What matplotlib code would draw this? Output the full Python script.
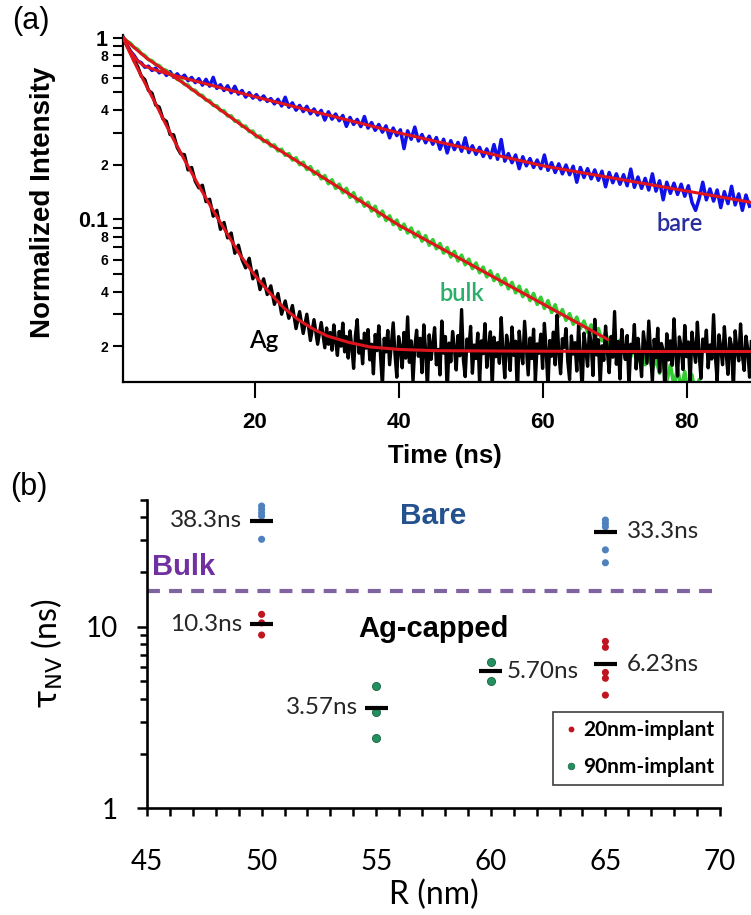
import numpy as np
import matplotlib
matplotlib.use("Agg")
import matplotlib.pyplot as plt
from matplotlib.lines import Line2D

plt.rcParams["font.family"] = ["Liberation Sans", "DejaVu Sans"]
plt.rcParams["mathtext.fontset"] = "dejavusans"

# ---------------- (a) time-resolved fluorescence ----------------
T_START = 1.7        # ns, first time bin
STEP = 0.5           # ns, bin width
FINE_STEP = 0.25     # ns, bin width of the late Ag record
AG_LATE_START = 29.95

# bare: normalized intensity x 1e-3
bare_counts = [
    1000, 915, 842, 800, 745, 728, 688, 697, 660, 680,
    641, 662, 620, 651, 606, 633, 598, 622, 580, 604,
    566, 595, 548, 590, 541, 605, 526, 551, 512, 544,
    497, 540, 489, 512, 471, 498, 465, 486, 455, 478,
    446, 462, 432, 458, 421, 470, 414, 438, 399, 424,
    392, 419, 381, 405, 375, 398, 352, 391, 356, 380,
    349, 373, 325, 364, 333, 355, 324, 368, 318, 341,
    309, 333, 302, 327, 281, 318, 289, 311, 245, 307,
    276, 322, 270, 293, 264, 287, 259, 282, 243, 276,
    232, 271, 242, 265, 237, 281, 233, 254, 228, 249,
    222, 244, 218, 258, 214, 275, 209, 230, 205, 226,
    190, 221, 197, 216, 193, 212, 190, 226, 186, 205,
    181, 202, 178, 199, 176, 196, 160, 193, 170, 190,
    167, 187, 164, 184, 151, 181, 159, 178, 156, 176,
    153, 189, 150, 171, 148, 168, 145, 178, 143, 163,
    128, 160, 139, 158, 137, 156, 134, 153, 124, 112,
    130, 160, 128, 147, 126, 145, 116, 142, 122, 152,
    120, 138, 112, 136, 118,
]

# bulk: normalized intensity x 1e-4
bulk_counts = [
    10000, 9580, 9330, 8850, 8640, 8190, 7990, 7580, 7470, 7120,
    7020, 6690, 6610, 6280, 6210, 5900, 5850, 5540, 5490, 5180,
    5130, 4850, 4810, 4530, 4510, 4240, 4220, 3970, 3960, 3710,
    3710, 3470, 3480, 3250, 3260, 3040, 3060, 2840, 2880, 2680,
    2720, 2530, 2570, 2380, 2430, 2250, 2300, 2120, 2180, 2000,
    2060, 1880, 1950, 1770, 1840, 1670, 1740, 1570, 1650, 1480,
    1560, 1400, 1480, 1320, 1400, 1250, 1310, 1180, 1240, 1110,
    1180, 1040, 1110, 985, 1045, 935, 990, 880, 940, 840,
    895, 798, 852, 758, 812, 720, 772, 688, 735, 652,
    698, 620, 665, 590, 634, 562, 603, 535, 574, 508,
    545, 482, 520, 460, 495, 436, 472, 414, 449, 394,
    428, 375, 408, 357, 390, 340, 372, 323, 356, 307,
    338, 292, 318, 278, 302, 264, 289, 250, 275, 239,
    262, 226, 250, 214, 238, 203, 228, 193, 216, 184,
    205, 175, 196, 166, 186, 158, 177, 150, 170, 142,
    170, 128, 158, 121, 151, 116, 145, 108, 139, 104,
    131, 98, 125, 95, 118, 90, 112, 86, 106, 82,
    100, 79, 95, 76, 90,
]

# Ag-capped: normalized intensity x 1e-4, 0.5 ns bins
ag_counts_early = [
    10000, 9020, 8420, 7460, 6950, 6150, 5880, 5130, 4950, 4260,
    4150, 3580, 3460, 2930, 2920, 2480, 2290, 2270, 1870, 1930,
    1620, 1490, 1540, 1250, 1290, 1040, 1120, 880, 960, 790,
    840, 650, 720, 600, 540, 610, 470, 520, 410, 470,
    385, 430, 340, 390, 300, 355, 285, 335, 250, 310,
    235, 300, 215, 280, 205, 270, 196,
]
# Ag-capped: background-limited tail, 0.25 ns bins
ag_counts_late = [
    252, 205, 238, 190, 262, 214, 178, 241, 200, 268, 186, 226,
    172, 243, 198, 151, 229, 280, 183, 214, 160, 236, 195, 247,
    168, 205, 141, 232, 189, 259, 174, 121, 221, 186, 244, 158,
    207, 269, 180, 135, 226, 197, 152, 238, 172, 290, 163, 214,
    128, 199, 245, 176, 221, 143, 262, 188, 117, 231, 169, 205,
    253, 158, 192, 139, 275, 183, 226, 110, 208, 164, 241, 196,
    148, 229, 177, 318, 168, 136, 219, 188, 257, 142, 203, 171,
    236, 125, 214, 182, 266, 153, 197, 240, 119, 224, 175, 209,
    161, 287, 185, 134, 230, 199, 147, 255, 178, 213, 105, 242,
    187, 160, 274, 196, 139, 222, 171, 248, 129, 206, 183, 233,
    151, 267, 190, 118, 215, 176, 239, 158, 296, 184, 141, 220,
    197, 250, 165, 131, 228, 181, 209, 146, 262, 172, 115, 236,
    193, 155, 244, 204, 138, 281, 179, 217, 123, 201, 167, 258,
    188, 143, 226, 174, 310, 159, 212, 132, 247, 192, 169, 229,
    120, 205, 184, 263, 150, 221, 178, 136, 240, 196, 161, 275,
    186, 127, 218, 173, 251, 144, 207, 190, 112, 234, 168, 214,
    157, 283, 182, 137, 225, 199, 149, 260, 175, 211, 124, 239,
    194, 163, 271, 180, 133, 219, 187, 245, 152, 203, 170, 298,
    176, 129, 231, 195, 158, 256, 183, 140, 222, 201, 114, 243,
    189, 166, 265, 178, 147, 227, 192, 135, 212,
]

# fitted decays (time in ns, normalized intensity)
bare_fit_t = [1.7, 2.5, 3.5, 4.5, 6, 8, 20, 40, 60, 88.9]
bare_fit = [1.0, 0.861, 0.759, 0.703, 0.667, 0.631, 0.473, 0.299, 0.197, 0.124]
bulk_fit_t = [1.7, 3, 5, 7, 10, 20, 40, 68, 69]
bulk_fit = [1.0, 0.898, 0.769, 0.679, 0.564, 0.292, 0.0927, 0.0229, 0.0218]
ag_fit_t = [1.7, 2.5, 3.5, 4.5, 5.5, 6.5, 7.5, 8.5, 10, 12, 14, 16, 18, 20,
            22, 24, 26, 28, 30, 33, 36, 40, 45, 55, 70, 88.9]
ag_fit = [1.0, 0.845, 0.70, 0.585, 0.49, 0.41, 0.34, 0.285, 0.22, 0.158,
          0.115, 0.085, 0.063, 0.049, 0.0395, 0.0325, 0.028, 0.025, 0.0228,
          0.021, 0.0198, 0.0192, 0.0189, 0.0188, 0.0187, 0.0187]

# ---------------- (b) lifetimes vs. aperture radius ----------------
bare_r = [50, 50, 50, 50, 50, 65, 65, 65, 65, 65]
bare_tau = [46.2, 44.3, 42.4, 40.7, 30.3, 38.7, 37.1, 35.5, 26.5, 22.5]
implant20_r = [50, 50, 50, 65, 65, 65, 65, 65]
implant20_tau = [11.7, 10.5, 9.0, 8.3, 7.7, 5.6, 5.2, 4.2]
implant90_r = [55, 55, 55, 60, 60]
implant90_tau = [4.71, 3.40, 2.43, 6.4, 5.0]
mean_r = [50, 65, 50, 55, 60, 65]
mean_tau = [38.3, 33.3, 10.3, 3.57, 5.70, 6.23]
bulk_tau = 15.8

W, H = 751, 915
fig = plt.figure(figsize=(W / 100, H / 100), dpi=100)

# ---- panel (a) ----
axa = fig.add_axes([122.7 / W, 1 - 382 / H, 628.3 / W, 346.6 / H])
axa.set_yscale("log")
axa.set_xlim(1.625, 88.9)
axa.set_ylim(0.0127, 1.03)

bare_t = T_START + STEP * np.arange(len(bare_counts))
bulk_t = T_START + STEP * np.arange(len(bulk_counts))
ag_t = np.concatenate([T_START + STEP * np.arange(len(ag_counts_early)),
                       AG_LATE_START + FINE_STEP * np.arange(len(ag_counts_late))])
bare_v = np.array(bare_counts) * 1e-3
bulk_v = np.array(bulk_counts) * 1e-4
ag_v = np.concatenate([ag_counts_early, ag_counts_late]) * 1e-4

axa.plot(bare_t, bare_v, color="#1010E8", lw=2.5, zorder=2)
axa.plot(bulk_t, bulk_v, color="#33CC33", lw=2.6, zorder=2)
axa.plot(ag_t, ag_v, color="black", lw=2.4, zorder=2.5)
for ft, fv in ((bare_fit_t, bare_fit), (bulk_fit_t, bulk_fit), (ag_fit_t, ag_fit)):
    axa.plot(ft, fv, color="#E0141C", lw=2.2, zorder=3)

for s in ("top", "right"):
    axa.spines[s].set_visible(False)
for s in ("left", "bottom"):
    axa.spines[s].set_linewidth(1.6)

axa.set_xticks([20, 40, 60, 80], ["20", "40", "60", "80"],
               fontsize=16, fontweight="bold")
axa.set_yticks([0.1, 1], ["0.1", "1"], fontsize=15.5, fontweight="bold")
minor_vals = [d * 10.0 ** e for e in (-2, -1) for d in range(2, 10)]
minor_labels = [str(d) if d % 2 == 0 else "" for e in (-2, -1) for d in range(2, 10)]
axa.set_yticks(minor_vals, minor_labels, minor=True, fontsize=10, fontweight="bold")
axa.tick_params(axis="x", which="major", direction="out", length=11.5, width=1.5, pad=10)
axa.tick_params(axis="y", which="both", direction="out", length=7.5, width=1.5, pad=3)

axa.set_xlabel("Time (ns)", fontsize=18.5, fontweight="bold", va="center")
axa.xaxis.set_label_coords(0.513, -0.2135)
axa.set_ylabel("Normalized Intensity", fontsize=20, fontweight="bold", va="center")
axa.yaxis.set_label_coords(-0.1268, 0.519)

axa.text(78.98, 0.0862, "bare", color="#2B2F9E", fontsize=17, family="Lato",
         fontweight="semibold", ha="center", va="baseline")
axa.text(48.75, 0.0355, "bulk", color="#2AAE6A", fontsize=17, family="Lato",
         fontweight="semibold", ha="center", va="baseline")
axa.text(21.2, 0.0195, "Ag", color="black", fontsize=17.5, family="Lato",
         fontweight="semibold", ha="center", va="baseline")

fig.text(12 / W, 1 - 21.5 / H, "(a)", fontsize=22, ha="left", va="center")
fig.text(10 / W, 1 - 487 / H, "(b)", fontsize=22, ha="left", va="center")

# ---- panel (b) ----
axb = fig.add_axes([147 / W, 1 - 808.3 / H, 573 / W, 308.5 / H])
axb.set_yscale("log")
axb.set_xlim(45, 70)
axb.set_ylim(1, 50)
for s in ("top", "right"):
    axb.spines[s].set_visible(False)
for s in ("left", "bottom"):
    axb.spines[s].set_linewidth(1.9)

axb.set_xticks(range(45, 71, 5), [str(v) for v in range(45, 71, 5)],
               fontsize=20, family="Lato")
axb.set_xticks(range(45, 71), minor=True)
axb.set_yticks([1, 10], ["1", "10"], fontsize=20, family="Lato")
axb.set_yticks([d * 10.0 ** e for e in (0, 1) for d in range(2, 10) if d * 10.0 ** e <= 50],
               minor=True)
axb.yaxis.set_minor_formatter(plt.NullFormatter())
axb.tick_params(axis="x", which="both", direction="out", length=6, width=1.8, pad=23)
axb.tick_params(axis="y", which="major", direction="out", length=7.2, width=1.8, pad=14)
axb.tick_params(axis="y", which="minor", direction="out", length=5, width=1.8)

axb.axhline(bulk_tau, color="#8064A2", lw=3.0, dashes=(3.1, 2.2), zorder=1)

axb.scatter(bare_r, bare_tau, s=26, color="#4F81BD", edgecolors="none", zorder=2)
axb.scatter(implant20_r, implant20_tau, s=26, color="#C0141E", edgecolors="none", zorder=2)
axb.scatter(implant90_r, implant90_tau, s=34, color="#23905F",
            edgecolors="#17603F", linewidths=0.6, zorder=2)

axb.hlines(mean_tau, np.array(mean_r) - 0.5, np.array(mean_r) + 0.5,
           color="black", lw=3.0, zorder=3)
label_offsets = [-5.5, 7, -5.5, -5, 3, 7]
for r, tau, off in zip(mean_r, mean_tau, label_offsets):
    axb.annotate(f"{tau:#.3g}ns", xy=(r + 0.5 * np.sign(off), tau),
                 xytext=(off, 0), textcoords="offset points",
                 ha="right" if off < 0 else "left", va="center",
                 fontsize=17.5, family="Lato", color="#262626")

axb.text(57.48, 36.6, "Bare", color="#24528F", fontsize=21.5,
         fontweight="bold", ha="center", va="baseline")
axb.text(45.22, 19.3, "Bulk", color="#7030A0", fontsize=21,
         fontweight="bold", ha="left", va="baseline")
axb.text(57.52, 8.8, "Ag-capped", color="black", fontsize=21,
         fontweight="bold", ha="center", va="baseline")

axb.set_xlabel("R (nm)", fontsize=23, family="Lato", va="center")
axb.xaxis.set_label_coords(0.5, -0.28)
axb.set_ylabel(r"$\mathrm{\tau}_{\mathrm{NV}}$ (ns)", fontsize=23, family="Lato",
               va="center")
axb.yaxis.set_label_coords(-0.1745, 0.5)

handles = [
    Line2D([], [], ls="", marker="o", ms=4.2, color="#C0141E", mec="none"),
    Line2D([], [], ls="", marker="o", ms=4.8, color="#23905F", mec="#17603F", mew=0.5),
]
leg = axb.legend(handles, ["20nm-implant", "90nm-implant"], loc="upper left",
                 bbox_to_anchor=(0.7086, 0.312), borderaxespad=0,
                 prop={"family": "Lato", "weight": "bold", "size": 15},
                 frameon=True, fancybox=False, framealpha=1, edgecolor="#404040",
                 borderpad=0.4, labelspacing=0.8, handlelength=0.9,
                 handletextpad=0.15)
leg.get_frame().set_linewidth(1.2)

fig.savefig("out.png", dpi=100)
